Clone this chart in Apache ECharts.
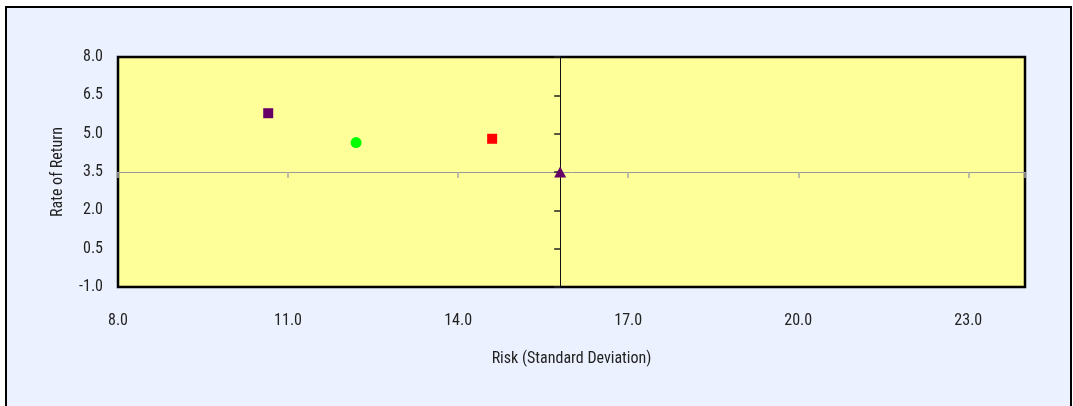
<!DOCTYPE html>
<html>
<head>
<meta charset="utf-8">
<script src="https://cdn.jsdelivr.net/npm/echarts@6/dist/echarts.min.js"></script>
<style>
html,body{margin:0;padding:0;background:#fff;}
#chart{width:1073px;height:406px;}
</style>
</head>
<body>
<div id="chart"></div>
<script>
// Data
const pointNames = ['Portfolio A', 'Portfolio B', 'Portfolio C', 'Market'];
const riskValues = [10.65, 12.2, 14.6, 15.8];
const returnValues = [5.8, 4.65, 4.8, 3.5];
const xTicks = [8, 11, 14, 17, 20, 23];
const yTicks = [-1, 0.5, 2, 3.5, 5, 6.5, 8];
const crossX = 15.8;
const crossY = 3.5;

const xMin = 8, xMax = 24, xInt = 3;
const yMin = -1, yMax = 8, yInt = 1.5;

const FONT = '"Roboto Condensed", "DejaVu Sans Condensed", sans-serif';
const chart = echarts.init(document.getElementById('chart'));

function pt(i) { return [[riskValues[i], returnValues[i]]]; }

chart.setOption({
  backgroundColor: '#ffffff',
  animation: false,
  graphic: [{
    type: 'rect', z: -10,
    shape: { x: 6, y: 7, width: 1065, height: 420 },
    style: { fill: '#ebf1fe', stroke: '#000', lineWidth: 2 }
  }],
  grid: {
    left: 118, top: 57, width: 907, height: 230,
    show: true, backgroundColor: '#ffff99', borderColor: '#000', borderWidth: 2.5,
    containLabel: false
  },
  xAxis: [
    {
      type: 'value', min: xMin, max: xMax, interval: xInt, position: 'bottom',
      axisLine: { show: false }, axisTick: { show: false }, splitLine: { show: false },
      axisLabel: { margin: 26, fontFamily: FONT, fontSize: 16, color: '#222',
        formatter: v => v.toFixed(1), showMaxLabel: false },
      name: 'Risk (Standard Deviation)', nameLocation: 'middle', nameGap: 64,
      nameTextStyle: { fontFamily: FONT, fontSize: 16, color: '#222' }
    },
    { type: 'value', show: false, position: 'bottom', min: xMin - crossX, max: xMax - crossX },
    {
      type: 'value', min: xMin, max: xMax, interval: xInt, position: 'bottom',
      axisLine: { show: true, onZero: true, onZeroAxisIndex: 1, lineStyle: { color: '#999', width: 1 } },
      axisTick: { show: true, length: 6, lineStyle: { color: '#aaa', width: 1.5 } },
      axisLabel: { show: false }, splitLine: { show: false }
    }
  ],
  yAxis: [
    {
      type: 'value', min: yMin, max: yMax, interval: yInt, position: 'left',
      axisLine: { show: false }, axisTick: { show: false }, splitLine: { show: false },
      axisLabel: { margin: 15, fontFamily: FONT, fontSize: 16, color: '#222',
        formatter: v => v.toFixed(1) },
      name: 'Rate of Return', nameLocation: 'middle', nameGap: 52, nameRotate: 90,
      nameTextStyle: { fontFamily: FONT, fontSize: 16, color: '#222' }
    },
    { type: 'value', show: false, position: 'left', min: yMin - crossY, max: yMax - crossY },
    {
      type: 'value', min: yMin, max: yMax, interval: yInt, position: 'left',
      axisLine: { show: true, onZero: true, onZeroAxisIndex: 1, lineStyle: { color: '#111', width: 1 } },
      axisTick: { show: true, length: 6, lineStyle: { color: '#222', width: 1.5 } },
      axisLabel: { show: false }, splitLine: { show: false }
    }
  ],
  series: [
    { name: pointNames[0], type: 'scatter', data: pt(0), symbol: 'rect', symbolSize: 10,
      itemStyle: { color: '#660066', opacity: 1 }, z: 5 },
    { name: pointNames[1], type: 'scatter', data: pt(1), symbol: 'circle', symbolSize: 11,
      itemStyle: { color: '#00ff00', opacity: 1 }, z: 5 },
    { name: pointNames[2], type: 'scatter', data: pt(2), symbol: 'rect', symbolSize: 10,
      itemStyle: { color: '#ff0000', opacity: 1 }, z: 5 },
    { name: pointNames[3], type: 'scatter', data: pt(3), symbol: 'triangle', symbolSize: [12, 11],
      itemStyle: { color: '#660066', opacity: 1 }, z: 5 }
  ]
});
</script>
</body>
</html>
